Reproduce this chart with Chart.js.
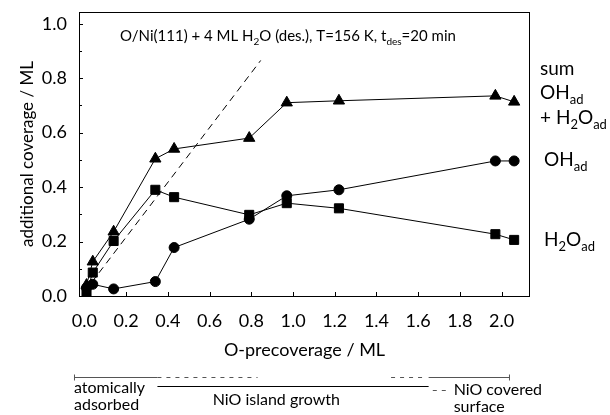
<!DOCTYPE html>
<html>
<head>
<meta charset="utf-8">
<script src="https://cdn.jsdelivr.net/npm/chart.js@4.4.1/dist/chart.umd.min.js"></script>
<style>
  html, body { margin: 0; padding: 0; background: #fff; }
  #wrap { width: 610px; height: 415px; }
</style>
</head>
<body>
<div id="wrap"><canvas id="c" width="610" height="415"></canvas></div>
<script>
// ---- data ----
const oPrecoverage = [0.01, 0.04, 0.14, 0.34, 0.43, 0.79, 0.97, 1.22, 1.97, 2.06];
const sumCoverage  = [0.04, 0.126, 0.236, 0.504, 0.54, 0.58, 0.71, 0.717, 0.735, 0.713];
const ohCoverage   = [0.03, 0.043, 0.026, 0.053, 0.178, 0.282, 0.368, 0.39, 0.496, 0.496];
const h2oCoverage  = [0.015, 0.086, 0.202, 0.39, 0.363, 0.298, 0.341, 0.322, 0.227, 0.206];
const guideX = [0.0, 0.845];
const guideY = [0.015, 0.865];
const xTickValues = [0.0, 0.2, 0.4, 0.6, 0.8, 1.0, 1.2, 1.4, 1.6, 1.8, 2.0];
const yTickValues = [0.0, 0.2, 0.4, 0.6, 0.8, 1.0];
const yMinorValues = [0.1, 0.3, 0.5, 0.7, 0.9];
// phase annotation below the axis (in O-precoverage units)
const atomicSolid  = [-0.05, 0.35];
const atomicDash   = [0.35, 0.83];
const islandSolid  = [0.35, 1.65];
const islandDash   = [1.47, 1.64];
const coveredSolid = [1.65, 2.04];
const coveredDash  = [1.67, 1.74];

const FONT = 'Lato, "Open Sans", sans-serif';
Chart.defaults.font.family = FONT;
Chart.defaults.color = '#000';

const pts = (ys) => oPrecoverage.map((x, i) => ({ x: x, y: ys[i] }));

function richWidth(ctx, parts, size) {
  let w = 0;
  for (const p of parts) {
    ctx.font = (p.sub ? Math.round(size * 0.68) : size) + 'px ' + FONT;
    w += ctx.measureText(p.t).width;
  }
  return w;
}
function drawRich(ctx, x, y, parts, size, align) {
  let cx = x;
  if (align === 'center') cx = x - richWidth(ctx, parts, size) / 2;
  ctx.textAlign = 'left';
  ctx.textBaseline = 'alphabetic';
  for (const p of parts) {
    const s = p.sub ? Math.round(size * 0.68) : size;
    ctx.font = s + 'px ' + FONT;
    ctx.fillText(p.t, cx, p.sub ? y + size * 0.28 : y);
    cx += ctx.measureText(p.t).width;
  }
}

const deco = {
  id: 'deco',
  afterDraw(chart) {
    const { ctx, chartArea: a, scales: { x, y } } = chart;
    ctx.save();
    ctx.fillStyle = '#000';
    ctx.strokeStyle = '#000';
    ctx.lineWidth = 1;
    // frame
    ctx.strokeRect(a.left + 0.5, a.top + 0.5, a.right - a.left - 1, a.bottom - a.top);
    // inward ticks
    ctx.beginPath();
    for (const v of yTickValues) {
      const py = Math.round(y.getPixelForValue(v)) + 0.5;
      ctx.moveTo(a.left, py); ctx.lineTo(a.left + 4, py);
    }
    for (const v of yMinorValues) {
      const py = Math.round(y.getPixelForValue(v)) + 0.5;
      ctx.moveTo(a.left, py); ctx.lineTo(a.left + 3, py);
    }
    for (const v of xTickValues) {
      const px = Math.round(x.getPixelForValue(v)) + 0.5;
      ctx.moveTo(px, a.bottom); ctx.lineTo(px, a.bottom - 4);
    }
    ctx.stroke();

    // title inside plot
    drawRich(ctx, 120, 41, [
      { t: 'O/Ni(111) + 4 ML H' }, { t: '2', sub: true }, { t: 'O (des.), T=156 K, t' },
      { t: 'des', sub: true }, { t: '=20 min' }
    ], 15);

    // right-hand series labels
    drawRich(ctx, 540, 75, [{ t: 'sum' }], 19);
    drawRich(ctx, 540, 99, [{ t: 'OH' }, { t: 'ad', sub: true }], 19);
    drawRich(ctx, 540, 124, [{ t: '+ H' }, { t: '2', sub: true }, { t: 'O' }, { t: 'ad', sub: true }], 19);
    drawRich(ctx, 544, 166, [{ t: 'OH' }, { t: 'ad', sub: true }], 19);
    drawRich(ctx, 544, 246, [{ t: 'H' }, { t: '2', sub: true }, { t: 'O' }, { t: 'ad', sub: true }], 19);

    // phase annotation
    const X = (v) => x.getPixelForValue(v);
    const yTop = 377.5, yMid = 386.5;
    ctx.strokeStyle = '#555';
    ctx.beginPath();
    ctx.moveTo(X(atomicSolid[0]), yTop); ctx.lineTo(X(atomicSolid[1]), yTop);
    ctx.moveTo(X(atomicSolid[0]) + 0.5, yTop - 3); ctx.lineTo(X(atomicSolid[0]) + 0.5, yTop + 3);
    ctx.moveTo(X(coveredSolid[0]), yTop); ctx.lineTo(X(coveredSolid[1]), yTop);
    ctx.moveTo(X(coveredSolid[1]) - 0.5, yTop - 3); ctx.lineTo(X(coveredSolid[1]) - 0.5, yTop + 3);
    ctx.stroke();
    ctx.setLineDash([4, 5]);
    ctx.beginPath();
    ctx.moveTo(X(atomicDash[0]), yTop); ctx.lineTo(X(atomicDash[1]), yTop);
    ctx.moveTo(X(islandDash[0]), yTop); ctx.lineTo(X(islandDash[1]), yTop);
    ctx.moveTo(X(coveredDash[0]), 390.5); ctx.lineTo(X(coveredDash[1]), 390.5);
    ctx.stroke();
    ctx.setLineDash([]);
    ctx.strokeStyle = '#000';
    ctx.beginPath();
    ctx.moveTo(X(islandSolid[0]), yMid); ctx.lineTo(X(islandSolid[1]), yMid);
    ctx.stroke();

    drawRich(ctx, X(atomicSolid[0]), 393, [{ t: 'atomically' }], 16);
    drawRich(ctx, X(atomicSolid[0]), 410, [{ t: 'adsorbed' }], 16);
    drawRich(ctx, X(0.92), 405, [{ t: 'NiO island growth' }], 16, 'center');
    drawRich(ctx, X(1.77), 395, [{ t: 'NiO covered' }], 16);
    drawRich(ctx, X(1.77), 412, [{ t: 'surface' }], 16);
    ctx.restore();
  }
};

const lineStyle = { borderColor: '#000', backgroundColor: '#000', borderWidth: 1, showLine: true,
  pointBorderWidth: 1, pointBorderColor: '#000', pointBackgroundColor: '#000' };

new Chart(document.getElementById('c'), {
  type: 'scatter',
  data: {
    datasets: [
      Object.assign({ label: 'sum OH_ad + H2O_ad', data: pts(sumCoverage), pointStyle: 'triangle', pointRadius: 6.5 }, lineStyle),
      Object.assign({ label: 'OH_ad', data: pts(ohCoverage), pointStyle: 'circle', pointRadius: 5 }, lineStyle),
      Object.assign({ label: 'H2O_ad', data: pts(h2oCoverage), pointStyle: 'rect', pointRadius: 6.4 }, lineStyle),
      { label: 'guide', data: guideX.map((x, i) => ({ x: x, y: guideY[i] })), showLine: true,
        borderColor: '#000', borderWidth: 1, borderDash: [7, 5], pointRadius: 0 }
    ]
  },
  options: {
    responsive: false,
    devicePixelRatio: 1,
    animation: false,
    layout: { autoPadding: false, padding: { left: 0, right: 80, top: 12, bottom: 0 } },
    plugins: { legend: { display: false }, tooltip: { enabled: false } },
    scales: {
      x: {
        type: 'linear', position: 'bottom', min: -0.026, max: 2.136,
        afterBuildTicks: (s) => { s.ticks = xTickValues.map(v => ({ value: v })); },
        afterFit: (s) => { s.height = 119; s.paddingLeft = 0; s.paddingRight = 0; s.paddingTop = 0; s.paddingBottom = 0; },
        grid: { display: false, drawTicks: false },
        border: { display: false },
        ticks: { autoSkip: false, maxRotation: 0, padding: 14, font: { size: 18 },
          callback: (v) => Number(v).toFixed(1) },
        title: { display: true, text: 'O-precoverage / ML', font: { size: 18 }, padding: { top: 0, bottom: 54 } }
      },
      y: {
        type: 'linear', min: 0, max: 1.043,
        afterBuildTicks: (s) => { s.ticks = yTickValues.map(v => ({ value: v })); },
        afterFit: (s) => { s.width = 79; s.paddingLeft = 0; s.paddingRight = 0; s.paddingTop = 0; s.paddingBottom = 0; },
        grid: { display: false, drawTicks: false },
        border: { display: false },
        ticks: { padding: 12, font: { size: 18 }, callback: (v) => Number(v).toFixed(1) },
        title: { display: true, text: 'additional coverage / ML', font: { size: 17 }, padding: { top: 17, bottom: 0 } }
      }
    }
  },
  plugins: [deco]
});
</script>
</body>
</html>
